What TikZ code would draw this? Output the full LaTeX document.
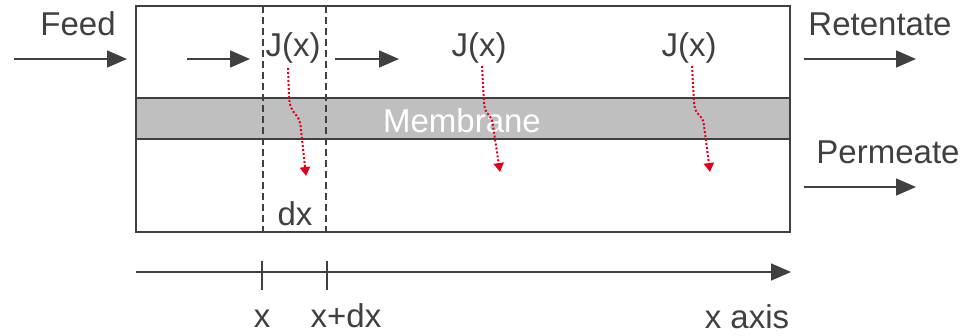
\documentclass[tikz,border=0pt]{standalone}
\usepackage{fontspec}
\setmainfont{Liberation Sans}
\usetikzlibrary{arrows.meta}
\definecolor{dk}{HTML}{404040}
\definecolor{mem}{HTML}{BFBFBF}
\definecolor{rd}{HTML}{E3001B}
\begin{document}
\begin{tikzpicture}[x=1pt,y=-1pt,
  lbl/.style={inner sep=0pt,anchor=base,text=dk,font=\fontsize{33}{38}\selectfont},
  flow/.style={draw=dk,line width=1.6pt,-{Triangle[length=20pt,width=17pt]}},
  flux/.style={draw=rd,line width=2pt,dotted,-{Triangle[length=9pt,width=10pt]}},
  cut/.style={draw=dk,line width=1.5pt,dash pattern=on 7pt off 4pt},
  frame/.style={draw=dk,line width=2.2pt}]
\useasboundingbox (0,0) rectangle (963,335);
% membrane band
\fill[mem] (136,98) rectangle (790,139);
\draw[frame] (136,98) -- (790,98);
\draw[frame] (136,139) -- (790,139);
% main box
\draw[frame] (136,6) rectangle (790,232);
% dashed cut lines
\draw[cut] (263,6) -- (263,232);
\draw[cut] (326,6) -- (326,232);
% labels
\node[lbl] (feed) at (78,35) {Feed};
\node[lbl] (ret) at (880,35) {Retentate};
\node[lbl] (perm) at (888,163) {Permeate};
\node[lbl] (j1) at (293,56) {J(x)};
\node[lbl] (j2) at (479,56) {J(x)};
\node[lbl] (j3) at (689,56) {J(x)};
\node[lbl,text=white] (memb) at (462,132) {Membrane};
\node[lbl] (dx) at (295,225) {dx};
\node[lbl] (lx) at (262,327) {x};
\node[lbl] (lxdx) at (346,327) {x+dx};
\node[lbl] (lax) at (747,328) {x axis};
% flow arrows
\coordinate (fa) at (14,59); \coordinate (fb) at (127,59);
\coordinate (ia) at (187,59); \coordinate (ib) at (250,59);
\coordinate (ic) at (335,59); \coordinate (id) at (399,59);
\coordinate (ra) at (804,59); \coordinate (rb) at (916,59);
\coordinate (pa) at (804,187); \coordinate (pb) at (916,187);
\draw[flow] (fa) -- (fb);
\draw[flow] (ia) -- (ib);
\draw[flow] (ic) -- (id);
\draw[flow] (ra) -- (rb);
\draw[flow] (pa) -- (pb);
% flux arrows
\draw[flux] (288,68) -- (289,96) .. controls (290,118) and (300,110) .. (301,130) -- (306,176);
\draw[flux] (482,66) -- (484,102) .. controls (485,118) and (492,112) .. (493,126) -- (500,172);
\draw[flux] (692,66) -- (694,102) .. controls (695,118) and (703,112) .. (704,126) -- (710,172);
% x axis
\coordinate (aa) at (136,272); \coordinate (ab) at (791,272);
\draw[flow] (aa) -- (ab);
\coordinate (t1a) at (262,261); \coordinate (t1b) at (262,290);
\coordinate (t2a) at (327,261); \coordinate (t2b) at (327,290);
\draw[dk,line width=1.5pt] (t1a) -- (t1b);
\draw[dk,line width=1.5pt] (t2a) -- (t2b);
\end{tikzpicture}
\end{document}
